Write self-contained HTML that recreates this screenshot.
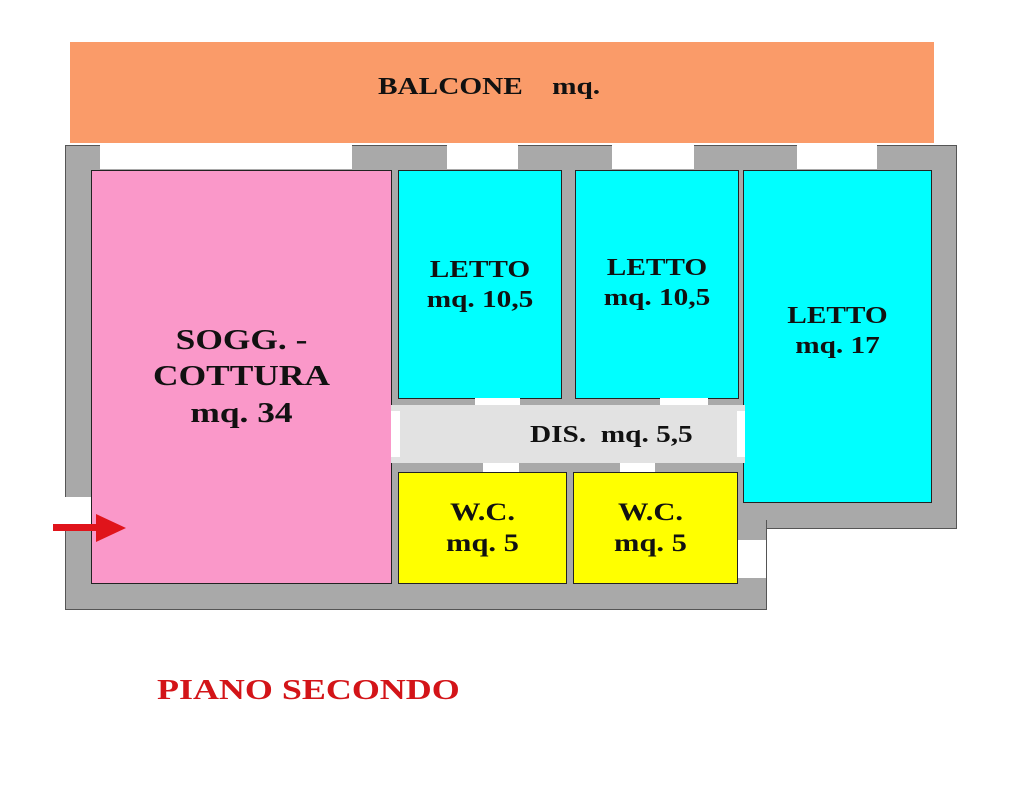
<!DOCTYPE html>
<html><head><meta charset="utf-8"><style>
body{margin:0;width:1024px;height:790px;background:#fff;position:relative;overflow:hidden;font-family:"Liberation Serif",serif;font-weight:bold}
div{position:absolute;box-sizing:border-box}
.g{background:#a9a9a9}
.w{background:#fff}
.r{border:1.5px solid #222}
.t{text-align:center;color:#111;line-height:1.25;transform:scaleX(1.22);transform-origin:center}
.l{transform-origin:left}
</style></head><body>
<div style="left:70px;top:42px;width:864px;height:101px;background:#fa9b69"></div>
<div class="t l" style="left:378px;top:72px;font-size:24px">BALCONE &nbsp;&nbsp; mq.</div>
<div class="g" style="left:65px;top:145px;width:892px;height:384px;border:1px solid #555"></div>
<div class="g" style="left:65px;top:520px;width:702px;height:90px;border:1px solid #555;border-top:none"></div>
<div class="g" style="left:66px;top:520px;width:700px;height:20px"></div>
<div class="w" style="left:100px;top:143px;width:252px;height:26px"></div>
<div class="w" style="left:447px;top:143px;width:71px;height:26px"></div>
<div class="w" style="left:612px;top:143px;width:82px;height:26px"></div>
<div class="w" style="left:797px;top:143px;width:80px;height:26px"></div>
<div class="w" style="left:63px;top:497px;width:29px;height:30px"></div>
<div class="w" style="left:738px;top:540px;width:28px;height:38px"></div>
<div class="r" style="left:91px;top:170px;width:301px;height:414px;background:#fa98c9"></div>
<div class="r" style="left:398px;top:170px;width:164px;height:229px;background:#00ffff"></div>
<div class="r" style="left:575px;top:170px;width:164px;height:229px;background:#00ffff"></div>
<div class="r" style="left:743px;top:170px;width:189px;height:333px;background:#00ffff"></div>
<div style="left:391px;top:405px;width:354px;height:58px;background:#e2e2e2"></div>
<div class="w" style="left:391px;top:411px;width:9px;height:46px"></div>
<div class="w" style="left:737px;top:411px;width:8px;height:46px"></div>
<div class="r" style="left:398px;top:472px;width:169px;height:112px;background:#ffff00"></div>
<div class="r" style="left:573px;top:472px;width:165px;height:112px;background:#ffff00"></div>
<div class="w" style="left:475px;top:398px;width:45px;height:7px"></div>
<div class="w" style="left:660px;top:398px;width:48px;height:7px"></div>
<div class="w" style="left:483px;top:463px;width:36px;height:9px"></div>
<div class="w" style="left:620px;top:463px;width:35px;height:9px"></div>
<svg style="position:absolute;left:50px;top:510px" width="80" height="36"><rect x="3" y="14" width="45" height="7" fill="#e0141b"/><polygon points="46,4 76,18 46,32" fill="#e0141b"/></svg>
<div class="t" style="left:91px;top:322px;width:301px;font-size:29px">SOGG. -<br>COTTURA<br>mq. 34</div>
<div class="t" style="left:398px;top:255px;width:164px;font-size:24px">LETTO<br>mq. 10,5</div>
<div class="t" style="left:575px;top:253px;width:164px;font-size:24px">LETTO<br>mq. 10,5</div>
<div class="t" style="left:743px;top:301px;width:189px;font-size:24px">LETTO<br>mq. 17</div>
<div class="t l" style="left:530px;top:420px;font-size:24px">DIS. &nbsp;mq. 5,5</div>
<div class="t" style="left:398px;top:497px;width:169px;font-size:25px">W.C.<br>mq. 5</div>
<div class="t" style="left:568px;top:497px;width:165px;font-size:25px">W.C.<br>mq. 5</div>
<div class="t l" style="left:157px;top:672px;font-size:29px;color:#d31418;transform:scaleX(1.24)">PIANO SECONDO</div>
</body></html>
